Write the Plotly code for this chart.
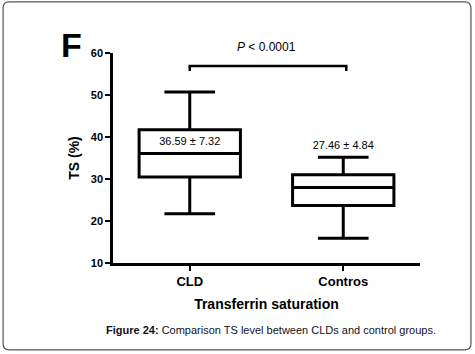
import plotly.graph_objects as go

categories = ["CLD", "Contros"]
cat_pos = [0, 1]
q1 = [30.5, 23.7]
median = [36.1, 28.0]
q3 = [41.7, 31.0]
lower = [21.7, 15.9]
upper = [50.7, 35.2]
mean_sd_labels = ["36.59 ± 7.32", "27.46 ± 4.84"]
label_y = [38.8, 37.9]
y_ticks = [10, 20, 30, 40, 50, 60]
bracket_x = [0, 0, 1.02, 1.02]
bracket_y = [55.7, 56.9, 56.9, 55.7]

fig = go.Figure()
fig.add_trace(go.Box(
    x=cat_pos, q1=q1, median=median, q3=q3, lowerfence=lower, upperfence=upper,
    width=0.66, whiskerwidth=0.5, fillcolor="white",
    line=dict(color="black", width=3), boxpoints=False, showlegend=False,
    hoverinfo="skip"))
fig.add_trace(go.Scatter(x=bracket_x, y=bracket_y, mode="lines",
                         line=dict(color="black", width=2.5), showlegend=False,
                         cliponaxis=False, hoverinfo="skip"))
fig.add_trace(go.Scatter(x=cat_pos, y=label_y, mode="text", text=mean_sd_labels,
                         textfont=dict(family="Arial", size=11, color="black"),
                         showlegend=False, cliponaxis=False, hoverinfo="skip"))

fig.add_annotation(x=0.5, y=1.03, xref="paper", yref="paper", text="<i>P</i> < 0.0001",
                   showarrow=False, font=dict(family="Arial", size=12, color="black"),
                   xanchor="center", yanchor="middle")
fig.add_annotation(x=-0.134, y=1.04, xref="paper", yref="paper", text="<b>F</b>",
                   showarrow=False, font=dict(family="Arial", size=34, color="black"),
                   xanchor="center", yanchor="middle")
fig.add_annotation(x=0.516, y=-0.32, xref="paper", yref="paper",
                   text="<b>Figure 24:</b> Comparison TS level between CLDs and control groups.",
                   showarrow=False, font=dict(family="Arial", size=11, color="#111122"),
                   xanchor="center", yanchor="middle")

# rounded border
x0, x1 = -0.358, 1.166
y0, y1 = -0.414, 1.243
rx, ry = 0.02, 0.029
path = (f"M {x0+rx},{y0} L {x1-rx},{y0} Q {x1},{y0} {x1},{y0+ry} "
        f"L {x1},{y1-ry} Q {x1},{y1} {x1-rx},{y1} L {x0+rx},{y1} "
        f"Q {x0},{y1} {x0},{y1-ry} L {x0},{y0+ry} Q {x0},{y0} {x0+rx},{y0} Z")
fig.add_shape(type="path", path=path, xref="paper", yref="paper",
              line=dict(color="#555555", width=1.2))

fig.update_layout(
    width=475, height=354,
    margin=dict(l=113, r=55, t=53, b=91),
    plot_bgcolor="white", paper_bgcolor="white",
    font=dict(family="Arial", color="black"),
)
fig.update_xaxes(
    range=[-0.5, 1.5], tickmode="array", tickvals=cat_pos, ticktext=categories,
    showline=True, linecolor="black", linewidth=2.5, ticks="outside", ticklen=5,
    tickwidth=2, tickcolor="black", showgrid=False, zeroline=False,
    tickfont=dict(family="Arial", size=13, weight="bold"),
    title=dict(text="<b>Transferrin saturation</b>", font=dict(size=14), standoff=11),
)
fig.update_yaxes(
    range=[10, 60], tickmode="array", tickvals=y_ticks,
    showline=True, linecolor="black", linewidth=2.5, ticks="outside", ticklen=5,
    tickwidth=2, tickcolor="black", showgrid=False, zeroline=False,
    tickfont=dict(family="Arial", size=11, weight="bold"),
    title=dict(text="<b>TS (%)</b>", font=dict(size=14), standoff=8),
)

fig.write_html("out.html", config={"displayModeBar": False},
               post_script="document.body.style.margin='0';")
